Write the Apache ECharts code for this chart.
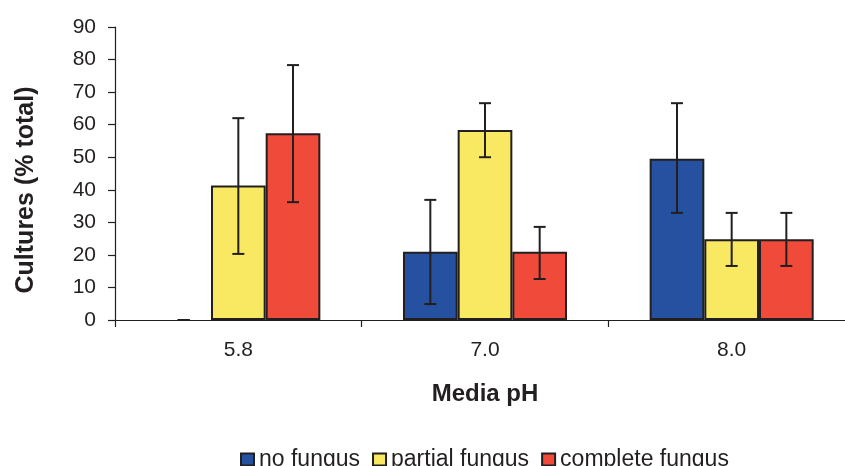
<!DOCTYPE html>
<html><head><meta charset="utf-8">
<script src="https://cdn.jsdelivr.net/npm/echarts@6/dist/echarts.min.js"></script>
<style>html,body{margin:0;padding:0;background:#fff;overflow:hidden;width:845px;height:466px}#c{width:855px;height:466px}</style>
</head><body><div id="c"></div>
<script>
const categories = ['5.8', '7.0', '8.0'];
const seriesNames = ['no fungus', 'partial fungus', 'complete fungus'];
const noFungus = [0, 21, 49.5];
const partialFungus = [41.3, 58.4, 24.8];
const completeFungus = [57.4, 21, 24.8];
const noFungusErr = [[0, 0], [4.9, 36.9], [32.9, 66.6]];
const partialFungusErr = [[20.3, 62.0], [50.0, 66.6], [16.6, 32.9]];
const completeFungusErr = [[36.2, 78.3], [12.6, 28.6], [16.6, 32.9]];
const yTicks = [0, 10, 20, 30, 40, 50, 60, 70, 80, 90];

const colors = ['#2650a0', '#f9e962', '#ef4a3a'];
const values = [noFungus, partialFungus, completeFungus];
const errs = [noFungusErr, partialFungusErr, completeFungusErr];
const ink = '#231f20';
const font = 'Liberation Sans, Arial, sans-serif';
const catGap = 0.335;

const chart = echarts.init(document.getElementById('c'), null, {renderer: 'canvas'});
const series = [];
values.forEach((vals, i) => {
  series.push({
    name: seriesNames[i], type: 'bar', barGap: '0%', barCategoryGap: (catGap * 100) + '%',
    itemStyle: {color: colors[i], borderColor: ink, borderWidth: 2},
    data: vals.map(v => v === 0 ? {value: v, itemStyle: {borderWidth: 0}} : v),
    z: 2
  });
});
errs.forEach((e, i) => {
  series.push({
    type: 'custom', name: 'err' + i, z: 5,
    encode: {x: 0, y: [1, 2]},
    data: e.map((r, k) => [k, r[0], r[1]]),
    renderItem: function (params, api) {
      const k = api.value(0);
      const lo = api.coord([k, api.value(1)]);
      const hi = api.coord([k, api.value(2)]);
      const band = api.size([1, 0])[0];
      const bw = band * (1 - catGap) / 3;
      const x = lo[0] + (i - 1) * bw;
      const cap = 6;
      const st = {stroke: ink, lineWidth: 2};
      return {type: 'group', children: [
        {type: 'line', shape: {x1: x, y1: lo[1], x2: x, y2: hi[1]}, style: st},
        {type: 'line', shape: {x1: x - cap, y1: lo[1], x2: x + cap, y2: lo[1]}, style: st},
        {type: 'line', shape: {x1: x - cap, y1: hi[1], x2: x + cap, y2: hi[1]}, style: st}
      ]};
    }
  });
});

chart.setOption({
  animation: false,
  backgroundColor: '#ffffff',
  textStyle: {fontFamily: font, color: ink},
  grid: {left: 115, right: 0, top: 27, height: 293},
  legend: {
    data: seriesNames, left: 240, top: 448, padding: 0, itemWidth: 13, itemHeight: 12, itemGap: 12,
    icon: 'rect',
    textStyle: {fontFamily: font, fontSize: 23, color: ink}
  },
  xAxis: {
    type: 'category', data: categories,
    name: 'Media pH', nameLocation: 'middle', nameGap: 62,
    nameTextStyle: {fontFamily: font, fontSize: 24, fontWeight: 'bold', color: ink},
    axisLine: {lineStyle: {color: ink, width: 1.2}},
    axisTick: {show: true, length: 7, lineStyle: {color: ink, width: 1.2}},
    axisLabel: {fontFamily: font, fontSize: 21, color: ink, margin: 20}
  },
  yAxis: {
    type: 'value', min: yTicks[0], max: yTicks[yTicks.length - 1], interval: yTicks[1] - yTicks[0],
    name: 'Cultures (% total)', nameLocation: 'middle', nameGap: 76,
    nameTextStyle: {fontFamily: font, fontSize: 25, fontWeight: 'bold', color: ink, padding: [0, 33, 0, 0]},
    axisLine: {show: true, lineStyle: {color: ink, width: 1.2}},
    axisTick: {show: true, length: 7, lineStyle: {color: ink, width: 1.2}},
    splitLine: {show: false},
    axisLabel: {fontFamily: font, fontSize: 21, color: ink, margin: 19}
  },
  series: series
});
</script></body></html>
